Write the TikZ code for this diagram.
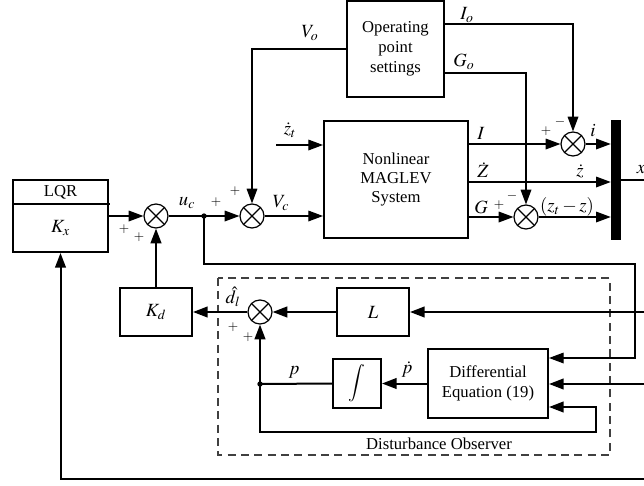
\documentclass[tikz,border=0pt]{standalone}
\usepackage{mathptmx}
\usepackage[no-math]{fontspec}
\setmainfont{Liberation Serif}
\usetikzlibrary{arrows.meta,calc}
\begin{document}
\begin{tikzpicture}[x=0.75pt,y=-0.75pt,
  box/.style={draw,line width=1.5pt,rectangle,inner sep=0pt,font=\fontsize{12.5}{15}\selectfont,align=center},
  sumn/.style={draw,circle,line width=0.9pt,minimum size=18pt,inner sep=0pt,
    path picture={\draw[line width=0.9pt] (path picture bounding box.north west)--(path picture bounding box.south east) (path picture bounding box.north east)--(path picture bounding box.south west);}},
  thinl/.style={line width=0.9pt},
  thickl/.style={line width=1.5pt},
  arr/.style={-{Triangle[length=11pt,width=8pt]}},
  lbl/.style={font=\fontsize{14}{16}\selectfont,inner sep=0pt},
  sgn/.style={font=\fontsize{10}{12}\selectfont,inner sep=0pt},
  dotn/.style={circle,fill,inner sep=0pt,minimum size=4pt}
]
\useasboundingbox (0,0) rectangle (644,486);

% blocks
\node[box,minimum width=71.25pt,minimum height=54pt] (lqr) at (60.5,216) {};
\node[font=\fontsize{12.5}{14}\selectfont] (lqrt) at (60.5,192) {LQR};
\node[lbl] (kx) at (60.5,228) {$K_x$};
\node[box,minimum width=72.75pt,minimum height=72pt] (op) at (395.5,49) {Operating\\point\\settings};
\node[box,minimum width=108pt,minimum height=87.75pt,font=\fontsize{12.5}{14.5}\selectfont] (nl) at (396,179.5) {Nonlinear\\MAGLEV\\System};
\node[box,minimum width=54pt,minimum height=36pt] (kd) at (156,312) {\fontsize{14}{16}\selectfont$K_d$};
\node[box,minimum width=54pt,minimum height=36pt] (L) at (373,312) {\fontsize{14}{16}\selectfont$L$};
\node[box,minimum width=36pt,minimum height=36.75pt] (int) at (357,383.5) {\fontsize{14}{15}\selectfont$\displaystyle\int$};
\node[box,minimum width=90pt,minimum height=51.75pt] (de) at (488,383.5) {Differential\\Equation (19)};
\node[fill,minimum width=7.5pt,minimum height=90pt,inner sep=0pt] (bar) at (616,180) {};

% summing junctions
\node[sumn] (s1) at (156,216) {};
\node[sumn] (s2) at (252,216) {};
\node[sumn] (s3) at (573,144) {};
\node[sumn] (s4) at (526,217) {};
\node[sumn] (s5) at (260,312) {};

% dashed observer box
\draw[dashed,line width=0.9pt,dash pattern=on 6pt off 4pt,black!75] (218,278) rectangle (610,455);
\node[font=\fontsize{12.5}{14}\selectfont] (dol) at (439,444) {Disturbance Observer};

% coordinates
\coordinate (j) at (204,216);
\coordinate (zt) at (276,145);
\coordinate (xo) at (644,180);
\coordinate (r1) at (635,264);
\coordinate (eL) at (644,312);
\coordinate (eD) at (644,384);
\coordinate (pj) at (260,384);
\coordinate (lb) at (260,432);
\coordinate (lr) at (596,432);
\coordinate (eB) at (644,479);

% LQR divider
\draw[thinl] (lqr.west |- 0,204) -- (110,204);

% forward path
\draw[thinl,arr] (lqr.east |- s1) -- (s1);
\draw[thinl] (s1) -- (j);
\draw[thinl,arr] (j) -- (s2);
\node[dotn] at (j) {};
\draw[thinl,arr] (op.west) -| (s2);
\draw[thinl,arr] (s2) -- (s2 -| nl.west);
\draw[thinl,arr] (zt) -- (zt -| nl.west);

% plant outputs
\draw[thinl,arr] (nl.east |- s3) -- (s3);
\draw[thinl,arr] (op.east |- 0,24) -| (s3);
\draw[thinl,arr] (op.east |- 0,73) -| (s4);
\draw[thinl,arr] (s3) -- (s3 -| bar.west);
\draw[thinl,arr] (nl.east |- 0,182) -- (bar.west |- 0,182);
\draw[thinl,arr] (nl.east |- s4) -- (s4);
\draw[thinl,arr] (s4) -- (s4 -| bar.west);
\draw[thinl] (bar.east |- xo) -- (xo);

% u_c branch to observer
\draw[thinl,arr] (j) |- (r1) |- (de.east |- 0,358);

% observer
\draw[thickl,arr] (eL) -- (L.east);
\draw[thickl,arr] (L.west) -- (s5);
\draw[thickl,arr] (s5) -- (kd.east);
\draw[thickl,arr] (kd.north) -- (s1);
\draw[thickl,arr] (eD) -- (de.east |- eD);
\draw[thickl,arr] (de.west |- int) -- (int.east);
\draw[thickl] (int.west) -- (pj);
\node[dotn] at (pj) {};
\draw[thickl,arr] (pj) -- (s5);
\draw[thickl,arr] (pj) -- (lb) -- (lr) |- (de.east |- 0,407);

% LQR feedback
\draw[thickl,arr] (eB) -| (lqr.south);

% labels
\node[lbl] (lvo) at (310,33) {$V_o$};
\node[lbl] (luc) at (187,203) {$u_c$};
\node[lbl] (lvc) at (281,203) {$V_c$};
\node[lbl] (lzt) at (290,130) {$\dot z_t$};
\node[lbl] (lio) at (467,15) {$I_o$};
\node[lbl] (lgo) at (464,62) {$G_o$};
\node[lbl] (lI) at (481,133) {$I$};
\node[lbl] (lZ) at (483,170) {$\dot Z$};
\node[lbl] (lz) at (580,171) {$\dot z$};
\node[lbl] (lG) at (481,207) {$G$};
\node[lbl] (li) at (593,131) {$i$};
\node[lbl] (lzz) at (567,207) {$(z_t-z)$};
\node[lbl] (lx) at (641,170) {$x$};
\node[lbl] (ldl) at (233,297) {$\hat d_l$};
\node[lbl] (lp) at (294,372) {$p$};
\node[lbl] (lpd) at (407,370) {$\dot p$};

% signs
\node[sgn] at (124,229) {$+$};
\node[sgn] at (139,237) {$+$};
\node[sgn] at (216,202) {$+$};
\node[sgn] at (235,191) {$+$};
\node[sgn] at (546,131) {$+$};
\node[sgn] at (560,122) {$-$};
\node[sgn] at (499,205) {$+$};
\node[sgn] at (512,196) {$-$};
\node[sgn] at (233,327) {$+$};
\node[sgn] at (248,337) {$+$};
\end{tikzpicture}
\end{document}
